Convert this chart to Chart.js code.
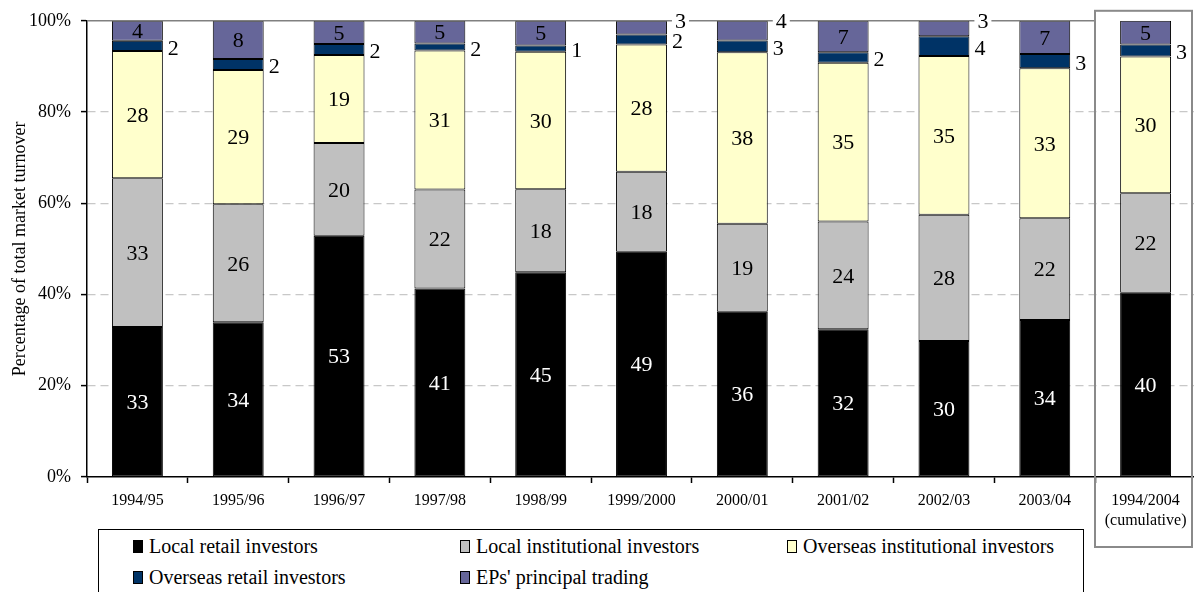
<!DOCTYPE html>
<html><head><meta charset="utf-8">
<script src="https://cdn.jsdelivr.net/npm/chart.js@4/dist/chart.umd.min.js"></script>
<style>
html,body{margin:0;padding:0;background:#fff;overflow:hidden;width:1194px;height:592px;}
#wrap{position:relative;width:1196px;height:592px;}
#c{display:block;}
#legend{position:absolute;left:98px;top:529px;width:986px;height:80px;border:1px solid #000;box-sizing:border-box;
  font-family:'Liberation Serif','Times New Roman',serif;font-size:20px;color:#000;display:grid;
  grid-template-columns:327px 327px 327px;grid-auto-rows:31px;align-content:start;
  padding-left:34px;padding-top:1px;line-height:31px;background:#fff;}
.item{display:flex;align-items:center;white-space:nowrap;height:31px;}
.sw{width:8px;height:11px;border:1px solid #000;margin-right:6px;flex:none;}
</style></head><body>
<div id="wrap"><canvas id="c" width="1196" height="592"></canvas><div id="legend"></div></div>
<script>
const categories = ['1994/95','1995/96','1996/97','1997/98','1998/99','1999/2000','2000/01','2001/02','2002/03','2003/04',['1994/2004','(cumulative)']];
const seriesNames = ['Local retail investors','Local institutional investors','Overseas institutional investors','Overseas retail investors',"EPs' principal trading"];
const localRetail    = [32.9, 33.9, 52.9, 41.3, 44.9, 49.4, 36.2, 32.4, 29.8, 34.4, 40.4];
const localInst      = [32.6, 25.9, 20.3, 21.7, 18.2, 17.5, 19.3, 23.6, 27.7, 22.3, 21.8];
const overseasInst   = [27.9, 29.4, 19.3, 30.5, 30.1, 27.9, 37.6, 34.8, 34.8, 32.9, 30.0];
const overseasRetail = [2.2, 2.4, 2.4, 1.5, 1.4, 2.2, 2.6, 2.3, 4.3, 3.1, 2.6];
const epTrading      = [4.4, 8.4, 5.1, 5.0, 5.4, 3.0, 4.3, 6.9, 3.4, 7.3, 5.2];
const yTicks = [0, 20, 40, 60, 80, 100];
const colors = ['#000000','#C0C0C0','#FFFFCC','#003366','#666699'];

const SERIF = "'Liberation Serif','Times New Roman',serif";

const decoPlugin = {
  id: 'deco',
  afterDatasetsDraw(chart) {
    const ctx = chart.ctx, ca = chart.chartArea, xs = chart.scales.x;
    const n = categories.length;
    const boxLeft = Math.round(xs.getPixelForValue(n - 1.5));
    const boxRight = Math.round(xs.getPixelForValue(n - 0.5)) - 4;
    ctx.save();
    ctx.strokeStyle = '#808080'; ctx.lineWidth = 1.5;
    ctx.beginPath(); ctx.moveTo(ca.left, ca.top); ctx.lineTo(boxLeft, ca.top); ctx.stroke();
    ctx.strokeStyle = '#8a8a8a'; ctx.lineWidth = 2;
    ctx.strokeRect(boxLeft, ca.top - 10, boxRight - boxLeft, ca.bottom + 70 - (ca.top - 10));
    ctx.font = '22px ' + SERIF;
    ctx.textBaseline = 'alphabetic';
    const capH = 22 * 0.66;
    chart.data.datasets.forEach((ds, di) => {
      const meta = chart.getDatasetMeta(di);
      meta.data.forEach((bar, i) => {
        const v = ds.data[i];
        const txt = String(Math.round(v));
        const p = bar.getProps(['x', 'y', 'base', 'width'], true);
        const mid = (p.y + p.base) / 2;
        const right = p.x + p.width / 2;
        if (di === 3) {
          ctx.textAlign = 'left'; ctx.fillStyle = '#000';
          ctx.fillText(txt, right + 5, mid + 1.5 + capH / 2);
        } else if (di === 4 && v < 4.35) {
          const w = ctx.measureText(txt).width;
          const lx = right + 8, ty = ca.top;
          ctx.fillStyle = '#fff';
          ctx.fillRect(lx - 3, ty - 9, w + 6, 18);
          ctx.textAlign = 'left'; ctx.fillStyle = '#000';
          ctx.fillText(txt, lx, ty + capH / 2);
        } else {
          ctx.textAlign = 'center';
          ctx.fillStyle = di === 0 ? '#fff' : '#000';
          ctx.fillText(txt, p.x, mid + capH / 2);
        }
      });
    });
    ctx.restore();
  }
};

const seriesData = [localRetail, localInst, overseasInst, overseasRetail, epTrading];
const datasets = seriesNames.map((name, k) => ({
  label: name,
  data: seriesData[k],
  backgroundColor: colors[k],
  borderColor: '#000',
  borderWidth: 1,
  borderSkipped: false,
  barPercentage: 0.505,
  categoryPercentage: 1
}));

new Chart(document.getElementById('c'), {
  type: 'bar',
  data: { labels: categories, datasets },
  options: {
    responsive: false,
    animation: false,
    layout: { padding: { top: 20, bottom: 0, left: 0, right: 0 } },
    plugins: { legend: { display: false }, tooltip: { enabled: false } },
    scales: {
      x: {
        stacked: true,
        afterFit: s => { s.height = 115; },
        grid: { display: true, drawOnChartArea: false, drawTicks: true, tickLength: 6, tickColor: '#000', tickWidth: 1.5, offset: true },
        border: { display: true, color: '#000', width: 1.5 },
        ticks: { color: '#000', font: { family: SERIF, size: 16, lineHeight: 1.25 }, padding: 8, maxRotation: 0, autoSkip: false }
      },
      y: {
        stacked: true,
        min: 0, max: 100,
        afterFit: s => { s.width = 87; },
        afterBuildTicks: s => { s.ticks = yTicks.map(v => ({ value: v })); },
        grid: {
          color: c => (c.tick && (c.tick.value === 0 || c.tick.value === 100)) ? 'rgba(0,0,0,0)' : '#c8c8c8',
          lineWidth: 1.2,
          drawTicks: true, tickLength: 6, tickColor: '#000', tickWidth: 1.5
        },
        border: { display: true, color: '#000', width: 1.5, dash: [8, 5] },
        ticks: { color: '#000', font: { family: SERIF, size: 18 }, padding: 10, callback: v => v + '%' },
        title: { display: true, text: 'Percentage of total market turnover', color: '#000', font: { family: SERIF, size: 18 }, padding: { top: 9, bottom: 0 } }
      }
    }
  },
  plugins: [decoPlugin]
});

const lg = document.getElementById('legend');
seriesNames.forEach((name, k) => {
  const it = document.createElement('div'); it.className = 'item';
  const sw = document.createElement('span'); sw.className = 'sw'; sw.style.background = colors[k];
  const tx = document.createElement('span'); tx.textContent = name;
  it.appendChild(sw); it.appendChild(tx); lg.appendChild(it);
});
</script>
</body></html>
